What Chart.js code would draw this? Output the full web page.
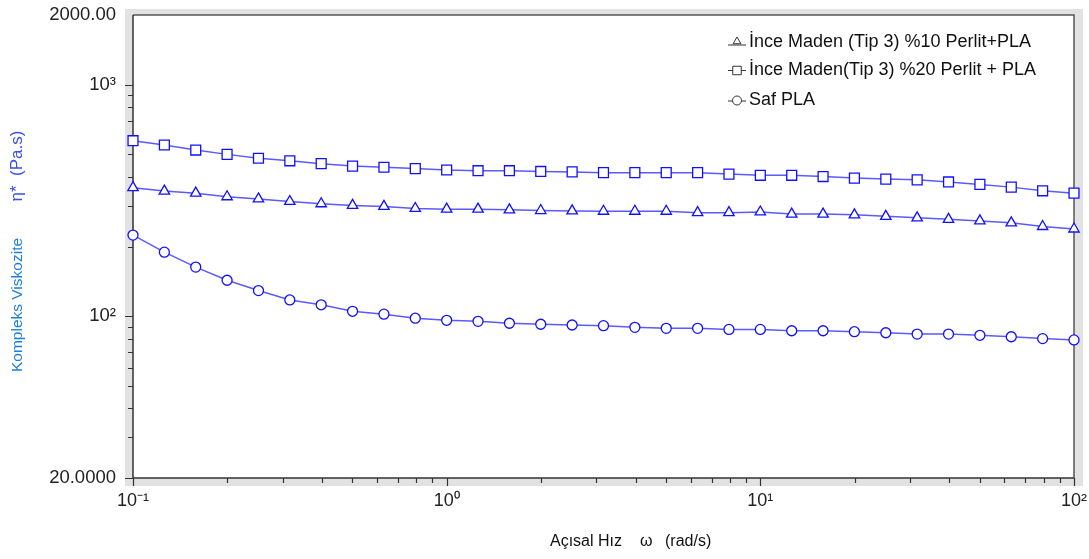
<!DOCTYPE html>
<html>
<head>
<meta charset="utf-8">
<script src="https://cdn.jsdelivr.net/npm/chart.js@4/dist/chart.umd.min.js"></script>
<style>
  html, body { margin: 0; padding: 0; background: #fff; }
  #wrap { width: 1089px; height: 559px; position: relative; }
</style>
</head>
<body>
<div id="wrap"><canvas id="chart"></canvas></div>
<script>
// angular frequency (rad/s), 10 points per decade
const omega = [
  0.1, 0.1259, 0.1585, 0.1995, 0.2512, 0.3162, 0.3981, 0.5012, 0.631, 0.7943,
  1, 1.259, 1.585, 1.995, 2.512, 3.162, 3.981, 5.012, 6.31, 7.943,
  10, 12.59, 15.85, 19.95, 25.12, 31.62, 39.81, 50.12, 63.1, 79.43, 100,
];

// complex viscosity (Pa.s)
const perlit10 = [
  359, 347, 340, 328, 321, 313, 306, 301, 298, 292,
  290, 290, 288, 286, 285, 284, 284, 284, 280, 280,
  282, 276, 276, 274, 270, 266, 262, 258, 253, 244, 238,
];
const perlit20 = [
  573, 549, 522, 500, 481, 469, 456, 445, 440, 434,
  428, 425, 425, 422, 420, 417, 417, 417, 417, 411,
  406, 406, 401, 395, 391, 388, 380, 371, 361, 348, 340,
];
const safPLA = [
  224, 189, 163, 143, 129, 117.5, 112, 105, 102, 98,
  96, 95, 93.2, 92.3, 91.6, 91, 89.5, 88.6, 88.6, 87.7,
  87.7, 86.5, 86.5, 85.7, 84.8, 83.7, 83.7, 82.7, 81.5, 80, 79,
];

const seriesNames = [
  "İnce Maden (Tip 3) %10 Perlit+PLA",
  "İnce Maden(Tip 3) %20 Perlit + PLA",
  "Saf PLA",
];

// tick positions and their labels
const xTicks = [
  0.1, 0.2, 0.3, 0.4, 0.5, 0.6, 0.7, 0.8, 0.9,
  1, 2, 3, 4, 5, 6, 7, 8, 9,
  10, 20, 30, 40, 50, 60, 70, 80, 90, 100,
];
const xLabels = { 0.1: "10⁻¹", 1: "10⁰", 10: "10¹", 100: "10²" };
const yTicks = [
  20, 30, 40, 50, 60, 70, 80, 90,
  100, 200, 300, 400, 500, 600, 700, 800, 900,
  1000, 2000,
];
const yLabels = { 20: "20.0000", 100: "10²", 1000: "10³", 2000: "2000.00" };
const majors = [0.1, 1, 10, 100, 1000];

const FONT = "'Liberation Sans', Arial, sans-serif";
const lineBlue = "#5a5aff";
const markBlue = "#1010ff";

const toPoints = (arr) => omega.map((w, i) => ({ x: w, y: arr[i] }));

// gray bevel behind the plot area, then the frame and the tick marks
const framePlugin = {
  id: "frame",
  beforeDraw(chart) {
    const { ctx, chartArea: a } = chart;
    ctx.save();
    ctx.fillStyle = "#e2e2e2";
    ctx.fillRect(a.left - 8, a.top - 6, a.right - a.left + 17, a.bottom - a.top + 14);
    ctx.fillStyle = "#fff";
    ctx.fillRect(a.left, a.top, a.right - a.left, a.bottom - a.top);
    ctx.restore();
  },
  beforeDatasetsDraw(chart) {
    const { ctx, chartArea: a, scales } = chart;
    ctx.save();
    ctx.lineWidth = 1.5;
    ctx.strokeStyle = "#555";
    ctx.beginPath();
    ctx.moveTo(a.left, a.top);
    ctx.lineTo(a.right, a.top);
    ctx.lineTo(a.right, a.bottom);
    ctx.stroke();
    ctx.strokeStyle = "#333";
    ctx.beginPath();
    ctx.moveTo(a.left, a.top);
    ctx.lineTo(a.left, a.bottom);
    ctx.lineTo(a.right, a.bottom);
    ctx.stroke();

    ctx.lineWidth = 1.2;
    ctx.beginPath();
    for (const v of xTicks) {
      const px = Math.round(scales.x.getPixelForValue(v)) + 0.5;
      const len = majors.includes(v) ? 8 : 5;
      ctx.moveTo(px, a.bottom);
      ctx.lineTo(px, a.bottom + len);
    }
    for (const v of yTicks) {
      if (v === 2000) continue;
      const py = Math.round(scales.y.getPixelForValue(v)) + 0.5;
      const len = majors.includes(v) || v === 20 ? 8 : 5;
      ctx.moveTo(a.left, py);
      ctx.lineTo(a.left - len, py);
    }
    ctx.stroke();
    ctx.restore();
  },
};

// legend in the top right corner and the two axis titles
const labelsPlugin = {
  id: "labels",
  afterDraw(chart) {
    const { ctx } = chart;
    ctx.save();

    const rows = [42, 70, 100];
    const symbolY = [45, 70.5, 101];
    const symbolCy = [41.5, 70.5, 100.5];
    chart.data.datasets.forEach((ds, i) => {
      ctx.strokeStyle = "#333";
      ctx.lineWidth = 1;
      ctx.beginPath();
      ctx.moveTo(728, symbolY[i]);
      ctx.lineTo(746, symbolY[i]);
      ctx.stroke();
      ctx.fillStyle = "#fff";
      Chart.helpers.drawPoint(ctx, {
        pointStyle: ds.pointStyle,
        radius: ds.pointStyle === "rect" ? 6 : 4.5,
        borderWidth: 1,
      }, 737, symbolCy[i]);
      ctx.fillStyle = "#111";
      ctx.font = `18px ${FONT}`;
      ctx.textAlign = "left";
      ctx.textBaseline = "middle";
      ctx.fillText(ds.label, 749, rows[i]);
    });

    // x title
    ctx.fillStyle = "#111";
    ctx.font = `16px ${FONT}`;
    ctx.textBaseline = "middle";
    ctx.fillText("Açısal Hız", 550, 541.5);
    ctx.fillText("ω", 640, 541.5);
    ctx.fillText("(rad/s)", 665, 541.5);

    // y title, rotated
    ctx.translate(18, 0);
    ctx.rotate(-Math.PI / 2);
    ctx.textAlign = "center";
    ctx.fillStyle = "#1e7fd8";
    ctx.font = `15.5px ${FONT}`;
    ctx.fillText("Kompleks Viskozite", -305, 0);
    ctx.fillStyle = "#3a4fe6";
    ctx.font = `17px ${FONT}`;
    ctx.fillText("η*  (Pa.s)", -166, -1);
    ctx.restore();
  },
};

const makeSet = (label, arr, style, radius) => ({
  label,
  data: toPoints(arr),
  pointStyle: style,
  pointRadius: radius,
  pointHoverRadius: radius,
  pointBorderWidth: 1.3,
  pointBorderColor: markBlue,
  pointBackgroundColor: "#fff",
  borderColor: lineBlue,
  borderWidth: 1.5,
  tension: 0,
  clip: false,
});

new Chart(document.getElementById("chart"), {
  type: "line",
  data: {
    datasets: [
      makeSet(seriesNames[0], perlit10, "triangle", 6),
      makeSet(seriesNames[1], perlit20, "rect", 7),
      makeSet(seriesNames[2], safPLA, "circle", 5),
    ],
  },
  options: {
    responsive: true,
    maintainAspectRatio: false,
    animation: false,
    layout: { padding: { top: 15, right: 15, left: 0, bottom: 0 } },
    plugins: { legend: { display: false }, tooltip: { enabled: false } },
    scales: {
      x: {
        type: "logarithmic",
        min: 0.1,
        max: 100,
        grid: { display: false, drawTicks: false },
        border: { display: false },
        afterBuildTicks: (s) => { s.ticks = xTicks.map((v) => ({ value: v })); },
        afterFit: (s) => {
          s.height = 81;
          s.paddingLeft = 0;
          s.paddingRight = 0;
        },
        ticks: {
          autoSkip: false,
          maxRotation: 0,
          padding: 12,
          color: "#222",
          font: { family: FONT, size: 18 },
          callback: (v) => xLabels[v] || "",
        },
      },
      y: {
        type: "logarithmic",
        min: 20,
        max: 2000,
        grid: { display: false, drawTicks: false },
        border: { display: false },
        afterBuildTicks: (s) => { s.ticks = yTicks.map((v) => ({ value: v })); },
        afterFit: (s) => {
          s.width = 133;
          s.paddingTop = 0;
          s.paddingBottom = 0;
        },
        ticks: {
          autoSkip: false,
          padding: 17,
          color: "#222",
          font: { family: FONT, size: 18.5 },
          callback: (v) => yLabels[v] || "",
        },
      },
    },
  },
  plugins: [framePlugin, labelsPlugin],
});
</script>
</body>
</html>
